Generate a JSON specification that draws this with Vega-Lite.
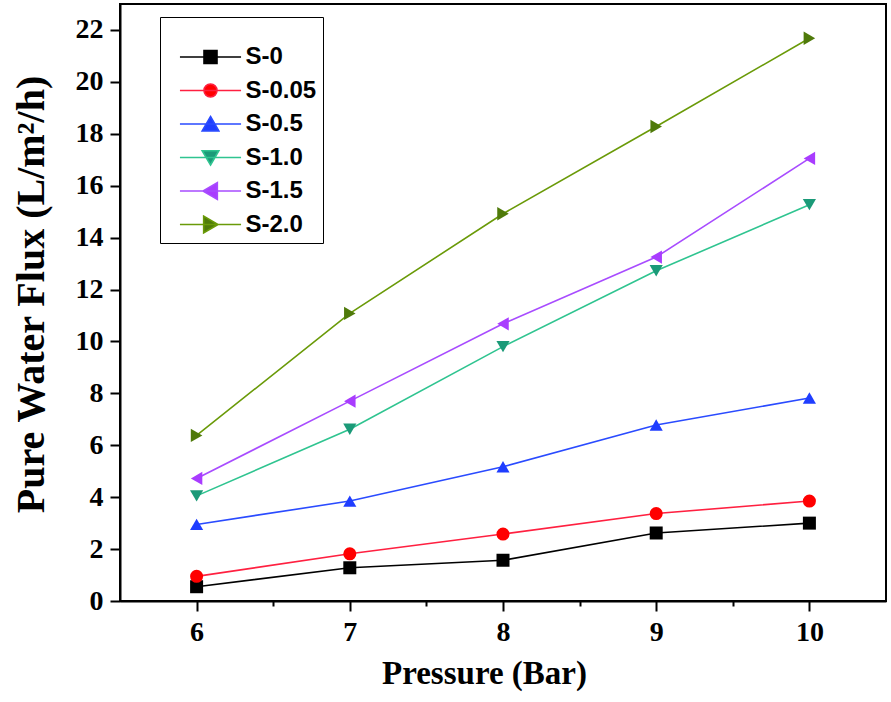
{
  "$schema": "https://vega.github.io/schema/vega-lite/v6.json",
  "width": 766,
  "height": 597,
  "autosize": {"type": "none"},
  "padding": {"left": 120, "top": 4, "right": 5, "bottom": 101},
  "background": "white",
  "config": {
    "view": {"stroke": "black", "strokeWidth": 2},
    "style": {"guide-label": {"font": "Liberation Serif", "fontSize": 28, "fontWeight": "bold", "fill": "black"}}
  },
  "data": {"values": [
    {"p": 6, "flux": 0.55, "s": "S-0"}, {"p": 7, "flux": 1.28, "s": "S-0"}, {"p": 8, "flux": 1.57, "s": "S-0"}, {"p": 9, "flux": 2.62, "s": "S-0"}, {"p": 10, "flux": 3.0, "s": "S-0"},
    {"p": 6, "flux": 0.95, "s": "S-0.05"}, {"p": 7, "flux": 1.82, "s": "S-0.05"}, {"p": 8, "flux": 2.58, "s": "S-0.05"}, {"p": 9, "flux": 3.37, "s": "S-0.05"}, {"p": 10, "flux": 3.85, "s": "S-0.05"},
    {"p": 6, "flux": 2.95, "s": "S-0.5"}, {"p": 7, "flux": 3.85, "s": "S-0.5"}, {"p": 8, "flux": 5.17, "s": "S-0.5"}, {"p": 9, "flux": 6.78, "s": "S-0.5"}, {"p": 10, "flux": 7.82, "s": "S-0.5"},
    {"p": 6, "flux": 4.05, "s": "S-1.0"}, {"p": 7, "flux": 6.62, "s": "S-1.0"}, {"p": 8, "flux": 9.8, "s": "S-1.0"}, {"p": 9, "flux": 12.72, "s": "S-1.0"}, {"p": 10, "flux": 15.27, "s": "S-1.0"},
    {"p": 6, "flux": 4.72, "s": "S-1.5"}, {"p": 7, "flux": 7.7, "s": "S-1.5"}, {"p": 8, "flux": 10.68, "s": "S-1.5"}, {"p": 9, "flux": 13.25, "s": "S-1.5"}, {"p": 10, "flux": 17.05, "s": "S-1.5"},
    {"p": 6, "flux": 6.38, "s": "S-2.0"}, {"p": 7, "flux": 11.08, "s": "S-2.0"}, {"p": 8, "flux": 14.92, "s": "S-2.0"}, {"p": 9, "flux": 18.28, "s": "S-2.0"}, {"p": 10, "flux": 21.68, "s": "S-2.0"}
  ]},
  "layer": [
    {
      "mark": {"type": "line", "strokeWidth": 1.6},
      "encoding": {
        "x": {"field": "p", "type": "quantitative",
          "scale": {"domain": [5.5, 10.5], "nice": false, "zero": false},
          "axis": {"values": [6, 6.5, 7, 7.5, 8, 8.5, 9, 9.5, 10],
            "labelExpr": "datum.value % 1 === 0 ? format(datum.value, 'd') : ''",
            "tickSize": {"condition": {"test": "datum.value % 1 !== 0", "value": 5}, "value": 10},
            "domainColor": "black", "domainWidth": 2, "tickColor": "black", "tickWidth": 2, "grid": false,
            "labelFont": "Liberation Serif", "labelFontWeight": "bold", "labelFontSize": 28, "labelColor": "black",
            "labelPadding": 7, "title": "Pressure (Bar)", "titleFontSize": 33,
            "titleFont": "Liberation Serif", "titleFontWeight": "bold", "titleColor": "black",
            "titleX": 364, "titleY": 82, "titleBaseline": "alphabetic", "titleAnchor": "middle", "titleAlign": "center",
            "encode": {"labels": {"update": {"fontSize": {"value": 28}, "font": {"value": "Liberation Serif"}, "fontWeight": {"value": "bold"}}}}}},
        "y": {"field": "flux", "type": "quantitative",
          "scale": {"domain": [0, 23], "nice": false},
          "axis": {"values": [0, 2, 4, 6, 8, 10, 12, 14, 16, 18, 20, 22], "tickSize": 10, "labelPadding": 7,
            "format": "d",
            "domainColor": "black", "domainWidth": 2, "tickColor": "black", "tickWidth": 2, "grid": false,
            "labelFont": "Liberation Serif", "labelFontWeight": "bold", "labelFontSize": 28, "labelColor": "black",
            "titleFont": "Liberation Serif", "titleFontWeight": "bold", "titleColor": "black",
            "title": "Pure Water Flux (L/m²/h)", "titleFontSize": 40, "titleX": -77, "titleY": 290,
            "titleBaseline": "alphabetic", "titleAngle": -90, "titleAlign": "center", "titleAnchor": "middle",
            "encode": {"labels": {"update": {"fontSize": {"value": 28}, "font": {"value": "Liberation Serif"}, "fontWeight": {"value": "bold"}}}}}},
        "color": {"field": "s", "type": "nominal",
          "scale": {"domain": ["S-0", "S-0.05", "S-0.5", "S-1.0", "S-1.5", "S-2.0"],
            "range": ["#000000", "#ff2040", "#2a4bff", "#2fc490", "#a84cff", "#6a9a08"]},
          "legend": {
            "orient": "none", "legendX": 40, "legendY": 13,
            "title": " ", "titleFontSize": 12, "titlePadding": 10,
            "padding": 6, "strokeColor": "black", "fillColor": "white",
            "symbolSize": 169, "symbolOffset": 32.5, "labelOffset": 23, "rowPadding": 9.5,
            "labelFont": "Liberation Sans", "labelFontWeight": "bold", "labelFontSize": 24, "labelColor": "black",
            "encode": {"labels": {"update": {"fontSize": {"value": 24}, "font": {"value": "Liberation Sans"}}},
              "symbols": {"update": {
              "shape": {"signal": "datum.value === 'S-0' ? 'M-4.7,0H4.7M-1,-1H1V1H-1Z' : datum.value === 'S-0.05' ? 'M-4.7,0H4.7M1,0A1,1,0,1,1,-1,0A1,1,0,1,1,1,0Z' : datum.value === 'S-0.5' ? 'M-4.7,0H4.7M0,-1.15L1.28,1.05L-1.28,1.05Z' : datum.value === 'S-1.0' ? 'M-4.7,0H4.7M0,1.15L1.28,-1.05L-1.28,-1.05Z' : datum.value === 'S-1.5' ? 'M-4.7,0H4.7M-1.15,0L1.05,1.28L1.05,-1.28Z' : 'M-4.7,0H4.7M1.15,0L-1.05,1.28L-1.05,-1.28Z'"},
              "fill": {"signal": "datum.value === 'S-0' ? '#000000' : datum.value === 'S-0.05' ? '#ff0000' : datum.value === 'S-0.5' ? '#1f3dff' : datum.value === 'S-1.0' ? '#1b9a78' : datum.value === 'S-1.5' ? '#a93cff' : '#4f7a0a'"},
              "stroke": {"signal": "datum.value === 'S-0' ? '#000000' : datum.value === 'S-0.05' ? '#ff2040' : datum.value === 'S-0.5' ? '#2a4bff' : datum.value === 'S-1.0' ? '#2fc490' : datum.value === 'S-1.5' ? '#a84cff' : '#6a9a08'"},
              "strokeWidth": {"value": 1.6},
              "opacity": {"value": 1},
              "fillOpacity": {"value": 1}
            }}}
          }}
      }
    },
    {
      "mark": {"type": "point", "filled": true, "opacity": 1},
      "encoding": {
        "x": {"field": "p", "type": "quantitative"},
        "y": {"field": "flux", "type": "quantitative"},
        "color": {"field": "s", "type": "nominal",
          "scale": {"domain": ["S-0", "S-0.05", "S-0.5", "S-1.0", "S-1.5", "S-2.0"],
            "range": ["#000000", "#ff0000", "#1f3dff", "#1b9a78", "#a93cff", "#4f7a0a"]},
          "legend": null},
        "shape": {"field": "s", "type": "nominal",
          "scale": {"domain": ["S-0", "S-0.05", "S-0.5", "S-1.0", "S-1.5", "S-2.0"],
            "range": ["square", "circle", "triangle-up", "triangle-down", "triangle-left", "triangle-right"]},
          "legend": null},
        "size": {"field": "s", "type": "nominal",
          "scale": {"domain": ["S-0", "S-0.05", "S-0.5", "S-1.0", "S-1.5", "S-2.0"],
            "range": [169, 177, 270, 270, 270, 270]},
          "legend": null}
      }
    }
  ],
  "resolve": {"scale": {"color": "independent"}}
}
